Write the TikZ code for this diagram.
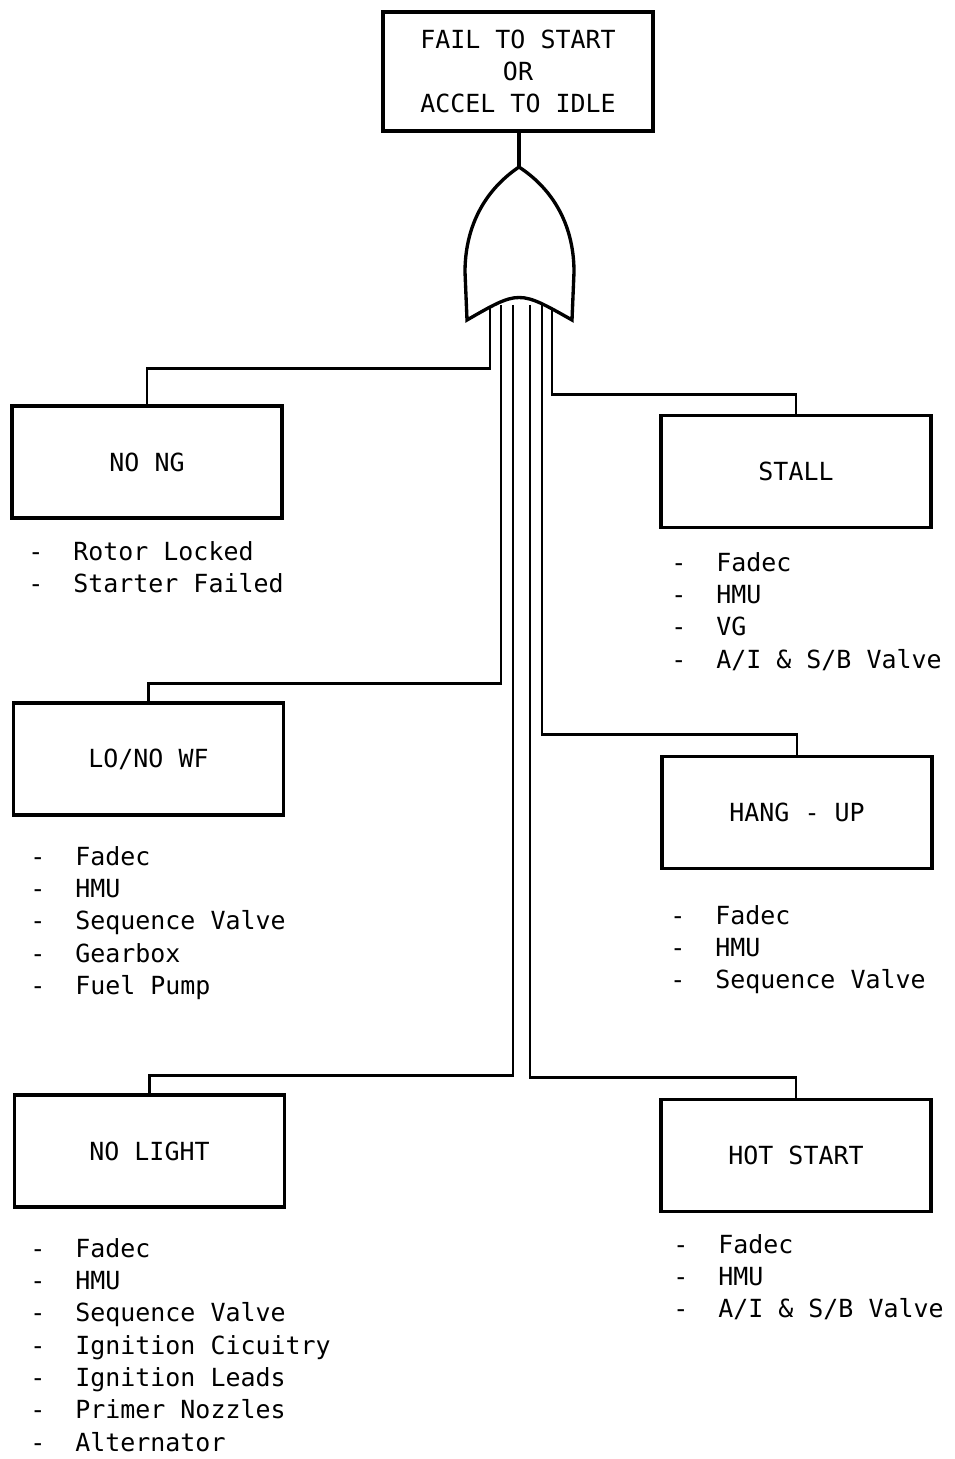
\documentclass[tikz,border=0pt]{standalone}
\usepackage{fontspec}
\setmonofont{DejaVu Sans Mono}
\usetikzlibrary{calc,positioning}
\newcommand{\itm}[1]{\makebox[0.9cm][l]{-}#1}

\begin{document}
\begin{tikzpicture}[x=0.02cm,y=-0.02cm,
  font=\ttfamily\fontsize{14.2}{18.4}\selectfont,
  event/.style={draw,line width=1.9pt,minimum width=5.4cm,minimum height=2.24cm,inner sep=0pt},
  causes/.style={anchor=north west,align=left,inner sep=0pt},
  wire/.style={line width=1.6pt}]
  \useasboundingbox (0,0) rectangle (954,1459);
  % top event and gate
  \node[event,minimum width=5.4cm,minimum height=2.38cm,align=center] (top) at (518,71.5)
    {FAIL TO START\\OR\\ACCEL TO IDLE};
  \coordinate (apex) at (519,167);
  \foreach \x [count=\i] in {490,501,513,530,542,552}
    \coordinate (w\i) at (\x,305);
  % intermediate events
  \node[event] (nong) at (147,462) {NO NG};
  \node[event] (stall) at (796,471.5) {STALL};
  \node[event] (lonowf) at (148.5,759) {LO/NO WF};
  \node[event] (hangup) at (797,812.5) {HANG - UP};
  \node[event] (nolight) at (149.5,1151) {NO LIGHT};
  \node[event] (hotstart) at (796,1155.5) {HOT START};
  % causes
  \node[causes] (nongc) at (28,541) {\itm{Rotor Locked}\\\itm{Starter Failed}};
  \node[causes] (stallc) at (671,552) {\itm{Fadec}\\\itm{HMU}\\\itm{VG}\\\itm{A/I \& S/B Valve}};
  \node[causes] (lonowfc) at (30,846) {\itm{Fadec}\\\itm{HMU}\\\itm{Sequence Valve}\\\itm{Gearbox}\\\itm{Fuel Pump}};
  \node[causes] (hangupc) at (670,905) {\itm{Fadec}\\\itm{HMU}\\\itm{Sequence Valve}};
  \node[causes] (nolightc) at (30,1238) {\itm{Fadec}\\\itm{HMU}\\\itm{Sequence Valve}\\\itm{Ignition Cicuitry}\\\itm{Ignition Leads}\\\itm{Primer Nozzles}\\\itm{Alternator}};
  \node[causes] (hotstartc) at (673,1234) {\itm{Fadec}\\\itm{HMU}\\\itm{A/I \& S/B Valve}};
  % wires from the gate
  \draw[wire] (w1) |- ($(nong.north)+(0,-36)$) -- (nong.north);
  \draw[wire] (w2) |- ($(lonowf.north)+(0,-18)$) -- (lonowf.north);
  \draw[wire] (w3) |- ($(nolight.north)+(0,-18)$) -- (nolight.north);
  \draw[wire] (w4) |- ($(hotstart.north)+(0,-20)$) -- (hotstart.north);
  \draw[wire] (w5) |- ($(hangup.north)+(0,-20)$) -- (hangup.north);
  \draw[wire] (w6) |- ($(stall.north)+(0,-19)$) -- (stall.north);
  \draw[line width=1.9pt] (apex |- top.south) -- (apex);
  \draw[line width=1.9pt,fill=white] (apex)
    .. controls (482,192) and (465,230) .. (465,272) -- (467,320)
    .. controls (519,290) .. (572,320) -- (574,272)
    .. controls (574,230) and (557,192) .. (apex) -- cycle;
\end{tikzpicture}
\end{document}
